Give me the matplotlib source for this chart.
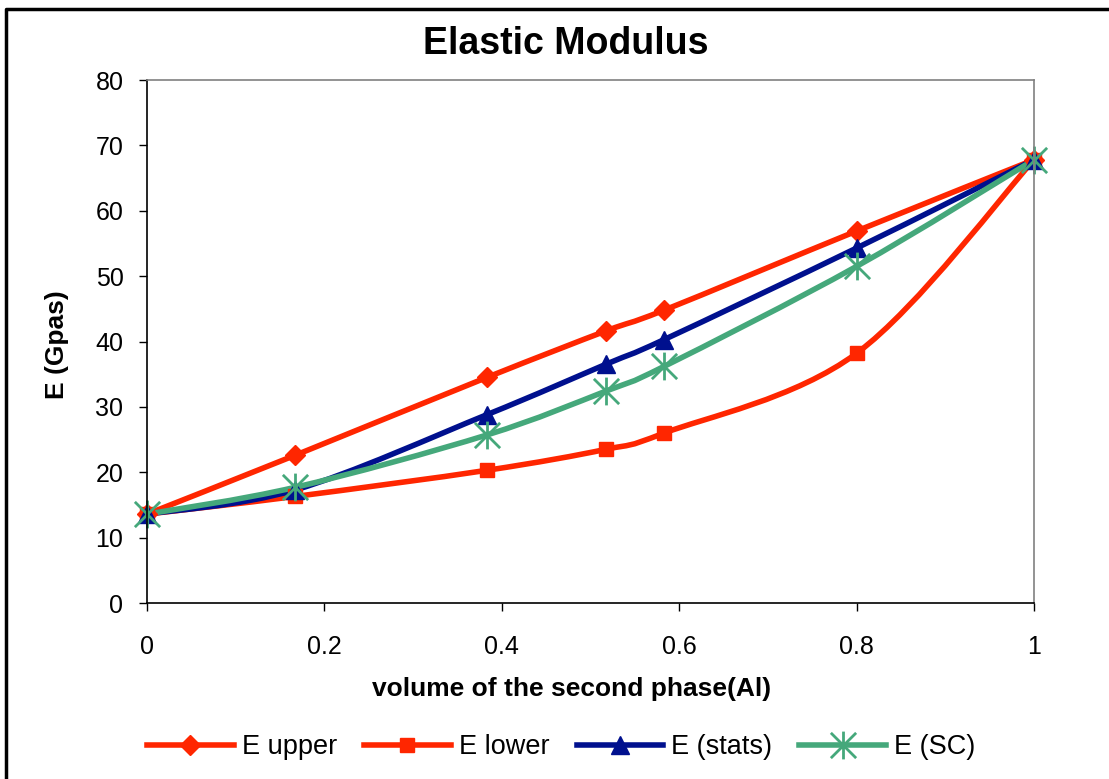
import numpy as np
import matplotlib
matplotlib.use("Agg")
import matplotlib.pyplot as plt
from matplotlib.path import Path
from matplotlib.patches import PathPatch
from matplotlib.lines import Line2D

plt.rcParams['font.family'] = ['Liberation Sans', 'DejaVu Sans']

# ---- data ----
volume = [0.0, 0.167, 0.383, 0.517, 0.583, 0.8, 1.0]
e_upper = [13.6, 22.6, 34.5, 41.6, 44.8, 56.9, 67.8]
e_lower = [13.6, 16.3, 20.3, 23.5, 26.0, 38.2, 67.8]
e_stats = [13.6, 17.3, 28.8, 36.5, 40.3, 54.3, 67.8]
e_sc = [13.6, 17.7, 25.7, 32.4, 36.2, 51.5, 67.8]
series_names = ['E upper', 'E lower', 'E (stats)', 'E (SC)']
x_ticks = [0, 0.2, 0.4, 0.6, 0.8, 1]
x_tick_labels = ['0', '0.2', '0.4', '0.6', '0.8', '1']
y_ticks = [0, 10, 20, 30, 40, 50, 60, 70, 80]

RED = '#FF2600'
BLUE = '#00108E'
GREEN = '#45A87B'


def smooth_path(x, y):
    """Excel-style smoothed line: cubic Bezier through the points."""
    pts = np.column_stack([x, y]).astype(float)
    n = len(pts)
    verts = [pts[0]]
    codes = [Path.MOVETO]
    for i in range(n - 1):
        p0 = pts[i - 1] if i > 0 else pts[i]
        p1 = pts[i]
        p2 = pts[i + 1]
        p3 = pts[i + 2] if i + 2 < n else pts[i + 1]
        c1 = p1 + (p2 - p0) / 6.0
        c2 = p2 - (p3 - p1) / 6.0
        verts += [c1, c2, p2]
        codes += [Path.CURVE4] * 3
    return Path(verts, codes)


star = Path([(-1, -1), (1, 1), (-1, 1), (1, -1), (0, -1.1), (0, 1.1)],
            [Path.MOVETO, Path.LINETO, Path.MOVETO, Path.LINETO,
             Path.MOVETO, Path.LINETO])

fig = plt.figure(figsize=(11.09, 7.79), dpi=100)
ax = fig.add_axes([0.1326, 0.2259, 0.7998, 0.6714])

LW = 4.0
styles = [
    (e_upper, RED, dict(marker='D', markersize=10, markerfacecolor=RED, markeredgecolor=RED)),
    (e_lower, RED, dict(marker='s', markersize=10.5, markerfacecolor=RED, markeredgecolor=RED)),
    (e_stats, BLUE, dict(marker='^', markersize=13.5, markerfacecolor=BLUE, markeredgecolor=BLUE)),
    (e_sc, GREEN, dict(marker=star, markersize=20, markerfacecolor='none',
                       markeredgecolor=GREEN, markeredgewidth=2.0)),
]

handles = []
for (vals, col, mk), name in zip(styles, series_names):
    ax.add_patch(PathPatch(smooth_path(volume, vals), facecolor='none',
                           edgecolor=col, lw=LW, capstyle='round',
                           joinstyle='round', clip_on=False))
    ax.plot(volume, vals, linestyle='none', clip_on=False, **mk)
    handles.append(Line2D([0], [0], color=col, lw=LW, label=name, **mk))

ax.set_xlim(0, 1)
ax.set_ylim(0, 80)
ax.set_xticks(x_ticks)
ax.set_xticklabels(x_tick_labels)
ax.set_yticks(y_ticks)
ax.tick_params(axis='both', direction='out', length=6, width=1.0,
               labelsize=18, colors='black')
ax.tick_params(axis='x', pad=17)
ax.tick_params(axis='y', pad=11)
for s in ['left', 'bottom']:
    ax.spines[s].set_color('black')
    ax.spines[s].set_linewidth(1.2)
for s in ['top', 'right']:
    ax.spines[s].set_color('#808080')
    ax.spines[s].set_linewidth(1.2)

fig.text(0.510, 0.943, 'Elastic Modulus', ha='center', va='center',
         fontsize=27, fontweight='bold')
fig.text(0.051, 0.558, 'E (Gpas)', ha='center', va='center', rotation=90,
         fontsize=19, fontweight='bold')
fig.text(0.515, 0.116, 'volume of the second phase(Al)', ha='center',
         va='center', fontsize=19, fontweight='bold')

fig.legend(handles=handles, loc='center', bbox_to_anchor=(0.506, 0.041),
           ncol=4, frameon=False, fontsize=19.5, handlelength=3.2,
           handletextpad=0.3, columnspacing=1.0)

# outer chart frame (left and top edges visible)
fig.add_artist(Line2D([0.0055, 0.0055, 1.0], [0.0, 0.9885, 0.9885],
                      transform=fig.transFigure, color='black', lw=2.5))

fig.savefig('out.png', dpi=100)
